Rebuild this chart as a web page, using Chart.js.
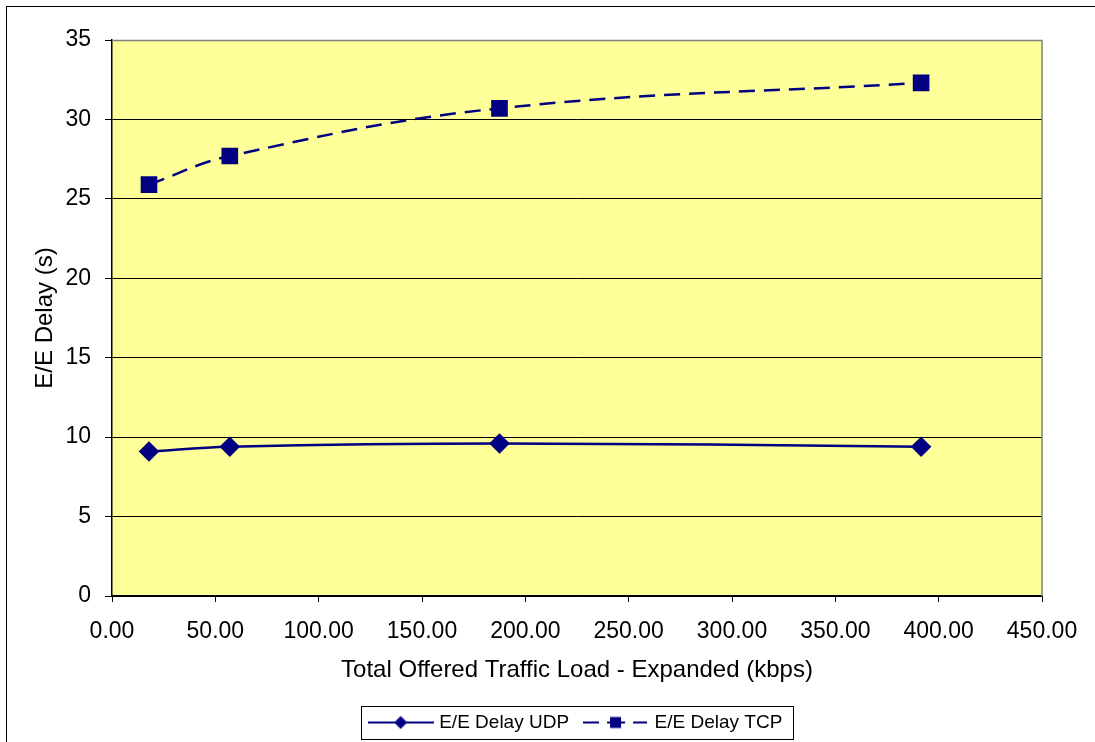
<!DOCTYPE html>
<html><head><meta charset="utf-8">
<script src="https://cdn.jsdelivr.net/npm/chart.js@4/dist/chart.umd.min.js"></script>
<style>
html,body{margin:0;padding:0;background:#fff;}
#wrap{position:relative;width:1095px;height:742px;overflow:hidden;}
#frame{position:absolute;left:6px;top:6px;width:1200px;height:800px;border-left:1.5px solid #000;border-top:1.5px solid #000;}
canvas{position:absolute;left:0;top:0;}
</style></head>
<body>
<div id="wrap"><div id="frame"></div><canvas id="c" width="1095" height="742"></canvas></div>
<script>
const loads = [17.9, 57.0, 187.5, 391.5];
const udpDelay = [9.1, 9.4, 9.6, 9.4];
const tcpDelay = [25.9, 27.7, 30.7, 32.3];
const seriesNames = ['E/E Delay UDP', 'E/E Delay TCP'];
const xTitle = 'Total Offered Traffic Load - Expanded (kbps)';
const yTitle = 'E/E Delay (s)';
const NAVY = '#000080';
const FONT = "'Liberation Sans', Arial, sans-serif";

function sample(kind){
  const c = document.createElement('canvas');
  c.width = 66; c.height = 16;
  const g = c.getContext('2d');
  g.strokeStyle = NAVY; g.fillStyle = NAVY; g.lineWidth = 2;
  g.beginPath();
  if (kind === 'udp') { g.moveTo(0,8); g.lineTo(66,8); g.stroke(); }
  else { g.moveTo(0,8); g.lineTo(16,8); g.moveTo(24,8); g.lineTo(42,8); g.moveTo(50,8); g.lineTo(64,8); g.stroke(); }
  g.beginPath();
  if (kind === 'udp') { g.moveTo(33,1.5); g.lineTo(39.5,8); g.lineTo(33,14.5); g.lineTo(26.5,8); g.closePath(); }
  else { g.rect(27,2.5,11,11); }
  g.fill();
  return c;
}
const samples = [sample('udp'), sample('tcp')];

const plotBg = {
  id:'plotBg',
  afterLayout(chart){
    const lg = chart.legend, a = chart.chartArea;
    if (lg) { lg.left = a.left; lg.right = a.right; lg.width = a.right - a.left; }
  },
  beforeDraw(chart){
    const {ctx, chartArea:a} = chart;
    ctx.save(); ctx.fillStyle = '#FFFF99';
    ctx.fillRect(a.left, a.top, a.right-a.left, a.bottom-a.top);
    ctx.restore();
  },
  afterDraw(chart){
    const {ctx, chartArea:a} = chart;
    ctx.save();
    ctx.strokeStyle = '#808080'; ctx.lineWidth = 1.5;
    ctx.beginPath();
    ctx.moveTo(a.left, a.top+0.5); ctx.lineTo(a.right, a.top+0.5); ctx.lineTo(a.right, a.bottom);
    ctx.stroke();
    const hb = chart.legend.legendHitBoxes;
    if (hb && hb.length) {
      let l = Math.min(...hb.map(h=>h.left)), r = Math.max(...hb.map(h=>h.left+h.width));
      let t = Math.min(...hb.map(h=>h.top)), b = Math.max(...hb.map(h=>h.top+h.height));
      ctx.strokeStyle = '#000'; ctx.lineWidth = 1;
      ctx.strokeRect(Math.round(l-11)+0.5, Math.round(t-7)+0.5, Math.round(r-l+21), Math.round(b-t+14));
    }
    ctx.restore();
  }
};

new Chart(document.getElementById('c'), {
  type:'line',
  data:{
    datasets:[
      {label:seriesNames[0], data:loads.map((x,i)=>({x, y:udpDelay[i]})), borderColor:NAVY, backgroundColor:NAVY,
       borderWidth:2.5, tension:0.4, pointStyle:'rectRot', pointRadius:8.5, pointHoverRadius:8.5},
      {label:seriesNames[1], data:loads.map((x,i)=>({x, y:tcpDelay[i]})), borderColor:NAVY, backgroundColor:NAVY,
       borderWidth:2.5, borderDash:[16,9], tension:0.4, pointStyle:'rect', pointRadius:10, pointHoverRadius:10}
    ]
  },
  options:{
    responsive:false, animation:false, devicePixelRatio:1,
    layout:{padding:{top:40,right:53,bottom:0,left:0}},
    plugins:{
      tooltip:{enabled:false},
      legend:{position:'bottom', align:'center',
        labels:{usePointStyle:true, pointStyleWidth:58, padding:18, color:'#000',
          font:{family:FONT, size:19},
          generateLabels(chart){
            return chart.data.datasets.map((d,i)=>({text:d.label, pointStyle:samples[i], fillStyle:NAVY, strokeStyle:NAVY, lineWidth:0, datasetIndex:i, hidden:false, fontColor:'#000'}));
          }}}
    },
    scales:{
      x:{type:'linear', min:0, max:450,
        afterFit(s){ s.height = 99; },
        ticks:{stepSize:50, color:'#000', padding:16, font:{family:FONT,size:23}, maxRotation:0,
          callback:v=>v.toFixed(2)},
        grid:{drawOnChartArea:false, drawTicks:true, tickLength:6, color:'#000'},
        border:{color:'#000', width:1.5},
        title:{display:true, text:xTitle, color:'#000', font:{family:FONT,size:24}, padding:{top:0,bottom:10}}
      },
      y:{min:0, max:35,
        afterFit(s){ s.width = 112; },
        ticks:{stepSize:5, color:'#000', padding:14, font:{family:FONT,size:23}},
        grid:{color:'#000', lineWidth:1, tickLength:7},
        border:{color:'#000', width:1.5},
        title:{display:true, text:yTitle, color:'#000', font:{family:FONT,size:24}, padding:{top:31,bottom:0}}
      }
    }
  },
  plugins:[plotBg]
});
</script>
</body></html>
